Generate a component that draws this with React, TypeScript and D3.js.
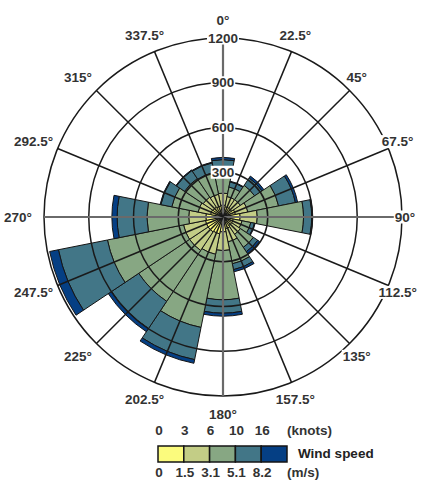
import React, { useEffect, useRef } from "react";
import * as d3 from "d3";

const width = 428;
const height = 481;

// 16 compass directions, degrees clockwise from north
const directions = [0, 22.5, 45, 67.5, 90, 112.5, 135, 157.5, 180, 202.5, 225, 247.5, 270, 292.5, 315, 337.5];

// counts per speed class (stacked from the centre outwards)
const speed0to1_5 = [80, 70, 70, 85, 115, 70, 70, 80, 100, 115, 120, 120, 115, 85, 80, 75];
const speed1_5to3_1 = [80, 70, 70, 85, 115, 60, 70, 90, 125, 140, 150, 150, 115, 85, 80, 80];
const speed3_1to5_1 = [165, 65, 115, 210, 310, 60, 105, 150, 330, 500, 410, 520, 280, 180, 150, 150];
const speed5_1to8_2 = [60, 35, 60, 115, 55, 25, 35, 40, 90, 220, 220, 335, 200, 75, 65, 65];
const speedAbove8_2 = [15, 5, 15, 15, 5, 5, 15, 15, 20, 25, 25, 60, 35, 5, 5, 5];
const series = [speed0to1_5, speed1_5to3_1, speed3_1to5_1, speed5_1to8_2, speedAbove8_2];

const ringTicks = [300, 600, 900, 1200];
const knotLabels = ["0", "3", "6", "10", "16"];
const msLabels = ["0", "1.5", "3.1", "5.1", "8.2"];

const binColors = ["#fbfb7d", "#c3cd86", "#87a783", "#427687", "#053f84"];

const cx = 223, cy = 217, rMax = 179;
const font = "'Liberation Sans', Arial, sans-serif";

export default function App() {
  const ref = useRef<SVGSVGElement>(null);

  useEffect(() => {
    const svg = d3.select(ref.current);
    svg.selectAll("*").remove();

    const r = d3.scaleLinear().domain([0, 1200]).range([0, rMax]);
    const toRad = (d: number) => (d * Math.PI) / 180;
    const half = Math.PI / 16;

    const g = svg.append("g").attr("transform", `translate(${cx},${cy})`);

    // stacked sectors
    const stacked = directions.flatMap((dir, i) => {
      let acc = 0;
      return series.map((s, k) => {
        const y0 = acc;
        acc += s[i];
        return { dir, k, y0, y1: acc };
      });
    });

    const arc = d3.arc<any>()
      .innerRadius(d => r(d.y0))
      .outerRadius(d => r(d.y1))
      .startAngle(d => toRad(d.dir) - half)
      .endAngle(d => toRad(d.dir) + half);

    g.selectAll("path.seg")
      .data(stacked)
      .join("path")
      .attr("class", "seg")
      .attr("d", arc)
      .attr("fill", d => binColors[d.k])
      .attr("stroke", "#151515")
      .attr("stroke-width", 1);

    // grid rings
    g.selectAll("circle.ring")
      .data(ringTicks)
      .join("circle")
      .attr("class", "ring")
      .attr("r", d => r(d))
      .attr("fill", "none")
      .attr("stroke", "#1a1a1a")
      .attr("stroke-width", 1.5);

    // spokes
    g.selectAll("line.spoke")
      .data(directions)
      .join("line")
      .attr("class", "spoke")
      .attr("x1", 0).attr("y1", 0)
      .attr("x2", d => r(1200) * Math.sin(toRad(d)))
      .attr("y2", d => -r(1200) * Math.cos(toRad(d)))
      .attr("stroke", d => (d % 90 === 0 ? "#6a6a6a" : "#1a1a1a"))
      .attr("stroke-width", d => (d % 90 === 0 ? 2.2 : 1.5));

    const addLabel = (x: number, y: number, text: string) => {
      const lg = g.append("g");
      const rect = lg.append("rect").attr("fill", "#fff");
      const t = lg.append("text")
        .attr("x", x).attr("y", y)
        .attr("text-anchor", "middle")
        .attr("dominant-baseline", "central")
        .style("font", `bold 13.5px ${font}`)
        .attr("fill", "#333")
        .text(text);
      const b = (t.node() as SVGTextElement).getBBox();
      rect.attr("x", b.x - 1).attr("y", b.y + 1).attr("width", b.width + 2).attr("height", b.height - 2);
    };

    // ring value labels on the north spoke
    ringTicks.forEach(v => addLabel(0, -r(v), String(v)));

    // direction labels
    directions.forEach(d => {
      const a = toRad(d);
      const R = 197;
      const x = R * Math.sin(a) - 8 * Math.abs(Math.sin(a)) - (d === 90 ? 7 : 0);
      const y = -R * Math.cos(a);
      addLabel(x, y, `${d}°`);
    });

    // legend
    const band = d3.scaleBand<number>().domain(d3.range(5)).range([158, 287]).padding(0);
    const lgd = svg.append("g");
    lgd.selectAll("rect.key")
      .data(binColors)
      .join("rect")
      .attr("class", "key")
      .attr("x", (_, i) => band(i) as number)
      .attr("y", 446)
      .attr("width", band.bandwidth())
      .attr("height", 16)
      .attr("fill", d => d)
      .attr("stroke", "#151515")
      .attr("stroke-width", 1.5);

    lgd.selectAll("text.knots")
      .data(knotLabels)
      .join("text")
      .attr("class", "knots")
      .attr("x", (_, i) => (band(i) as number) + 1)
      .attr("y", 435)
      .attr("text-anchor", "middle")
      .style("font", `bold 13.5px ${font}`)
      .attr("fill", "#333")
      .text(d => d);

    lgd.selectAll("text.ms")
      .data(msLabels)
      .join("text")
      .attr("class", "ms")
      .attr("x", (_, i) => (band(i) as number) + 1)
      .attr("y", 477)
      .attr("text-anchor", "middle")
      .style("font", `bold 13.5px ${font}`)
      .attr("fill", "#333")
      .text(d => d);

    lgd.append("text").attr("x", 287).attr("y", 435)
      .style("font", `bold 13.5px ${font}`).attr("fill", "#333").text("(knots)");
    lgd.append("text").attr("x", 287).attr("y", 477)
      .style("font", `bold 13.5px ${font}`).attr("fill", "#333").text("(m/s)");
    lgd.append("text").attr("x", 298).attr("y", 458)
      .style("font", `bold 13.5px ${font}`).attr("fill", "#222").text("Wind speed");
  }, []);

  return (
    <svg
      ref={ref}
      width={width}
      height={height}
      style={{ position: "absolute", left: 0, top: 0, background: "#fff" }}
    />
  );
}
